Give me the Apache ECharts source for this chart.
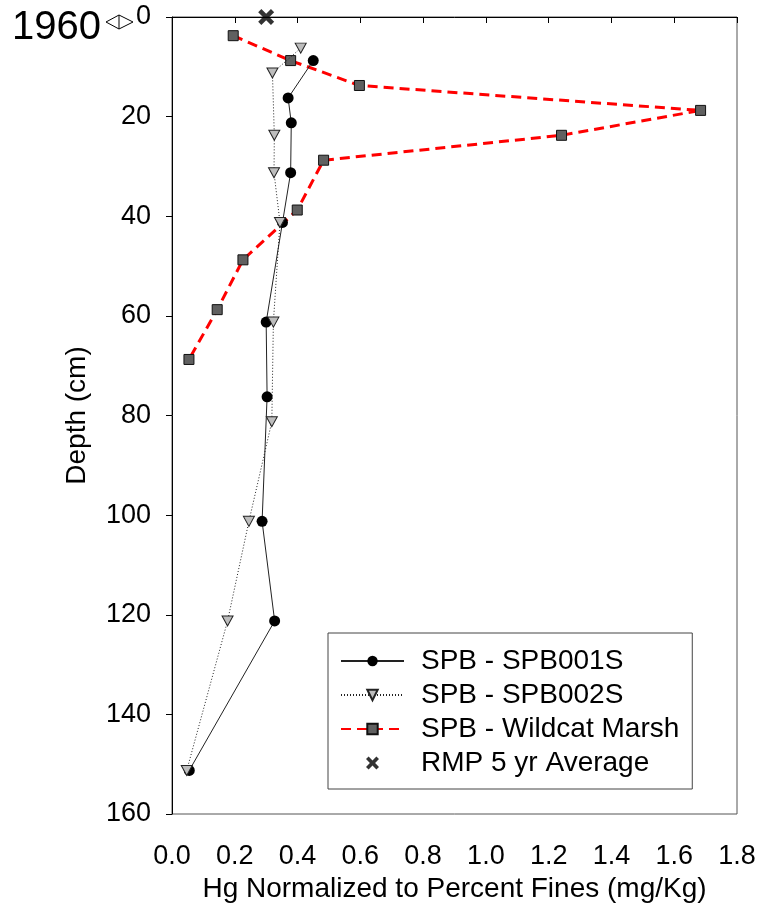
<!DOCTYPE html>
<html>
<head>
<meta charset="utf-8">
<script src="https://cdn.jsdelivr.net/npm/echarts@6/dist/echarts.min.js"></script>
<style>
html,body{margin:0;padding:0;background:#fff;}
#chart{width:760px;height:915px;}
</style>
</head>
<body>
<div id="chart"></div>
<script>
const seriesNames = ['SPB - SPB001S', 'SPB - SPB002S', 'SPB - Wildcat Marsh', 'RMP 5 yr Average'];
const depth001 = [8.75, 16.25, 21.25, 31.25, 41.25, 61.25, 76.25, 101.25, 121.25, 151.25];
const hg001 = [0.45, 0.37, 0.38, 0.378, 0.352, 0.30, 0.303, 0.287, 0.327, 0.055];
const depth002 = [6.25, 11.25, 23.75, 31.25, 41.25, 61.25, 81.25, 101.25, 121.25, 151.25];
const hg002 = [0.41, 0.32, 0.326, 0.325, 0.344, 0.323, 0.318, 0.245, 0.177, 0.047];
const depthWildcat = [3.75, 8.75, 13.75, 18.75, 23.75, 28.75, 38.75, 48.75, 58.75, 68.75];
const hgWildcat = [0.195, 0.378, 0.597, 1.684, 1.241, 0.483, 0.399, 0.226, 0.144, 0.054];
const depthRmp = [0];
const hgRmp = [0.30];
const xTicks = [0.0, 0.2, 0.4, 0.6, 0.8, 1.0, 1.2, 1.4, 1.6, 1.8];
const yTicks = [0, 20, 40, 60, 80, 100, 120, 140, 160];
const titleText = '1960';

const pairs = (xs, ys) => xs.map((v, i) => [v, ys[i]]);
const FONT = '"Liberation Sans", Arial, sans-serif';
const xPath = 'path://M0,4 L4,0 L10,6 L16,0 L20,4 L14,10 L20,16 L16,20 L10,14 L4,20 L0,16 L6,10 Z';

const chart = echarts.init(document.getElementById('chart'), null, {renderer: 'canvas'});
chart.setOption({
  animation: false,
  backgroundColor: '#fff',
  textStyle: {fontFamily: FONT, color: '#000'},
  grid: {left: 172, right: 23, top: 17, bottom: 101, show: true, borderColor: '#555', borderWidth: 1, containLabel: false},
  xAxis: {
    type: 'value',
    min: xTicks[0], max: xTicks[xTicks.length - 1], interval: 0.2,
    name: 'Hg Normalized to Percent Fines (mg/Kg)',
    nameLocation: 'middle', nameGap: 60,
    nameTextStyle: {fontSize: 28, fontFamily: FONT, color: '#000'},
    axisLine: {show: true, lineStyle: {color: '#000', width: 1}},
    axisTick: {show: true, inside: false, length: 6, lineStyle: {color: '#000'}},
    axisLabel: {fontSize: 27, fontFamily: FONT, color: '#000', margin: 29, formatter: v => v.toFixed(1)},
    splitLine: {show: false}
  },
  yAxis: {
    type: 'value', inverse: true,
    min: yTicks[0], max: yTicks[yTicks.length - 1], interval: 20,
    name: 'Depth (cm)',
    nameLocation: 'middle', nameGap: 81, nameRotate: 90,
    nameTextStyle: {fontSize: 28, fontFamily: FONT, color: '#000'},
    axisLine: {show: true, lineStyle: {color: '#000', width: 1}},
    axisTick: {show: true, inside: false, length: 6, lineStyle: {color: '#000'}},
    axisLabel: {fontSize: 27, fontFamily: FONT, color: '#000', margin: 21},
    splitLine: {show: false}
  },
  legend: {
    orient: 'vertical',
    left: 328, top: 633,
    padding: [14, 13, 12, 12],
    itemWidth: 63, itemHeight: 13, itemGap: 6,
    borderColor: '#444', borderWidth: 1, backgroundColor: '#fff',
    textStyle: {fontSize: 28, fontFamily: FONT, color: '#000', lineHeight: 28, padding: [0, 0, 0, 12]},
    data: [seriesNames[0], seriesNames[1], seriesNames[2], {name: seriesNames[3], icon: xPath}]
  },
  series: [
    {
      name: seriesNames[0], type: 'line', data: pairs(hg001, depth001),
      symbol: 'circle', symbolSize: 11,
      lineStyle: {color: '#222', width: 1, type: 'solid'},
      itemStyle: {color: '#000', borderColor: '#000', borderWidth: 0},
      z: 3
    },
    {
      name: seriesNames[1], type: 'line', data: pairs(hg002, depth002),
      symbol: 'triangle', symbolRotate: 180, symbolSize: [11, 10],
      lineStyle: {color: '#222', width: 1, type: [1, 2]},
      itemStyle: {color: '#bdbdbd', borderColor: '#222', borderWidth: 1},
      z: 4
    },
    {
      name: seriesNames[2], type: 'line', data: pairs(hgWildcat, depthWildcat),
      symbol: 'rect', symbolSize: 10,
      lineStyle: {color: '#ff0000', width: 3, type: [10, 6]},
      itemStyle: {color: '#606060', borderColor: '#111', borderWidth: 1},
      z: 2
    },
    {
      name: seriesNames[3], type: 'scatter', data: pairs(hgRmp, depthRmp),
      symbol: xPath, symbolSize: 16, clip: false,
      itemStyle: {color: '#000'},
      z: 5
    }
  ],
  graphic: [
    {type: 'text', left: 12, top: 8, style: {text: titleText, font: '40px ' + FONT, fill: '#000'}},
    {type: 'polygon', shape: {points: [[106, 22], [119, 15], [133, 22], [119, 29]]}, style: {fill: '#fff', stroke: '#000', lineWidth: 1}},
    {type: 'line', shape: {x1: 119, y1: 15, x2: 119, y2: 29}, style: {stroke: '#000', lineWidth: 1}}
  ]
});
</script>
</body>
</html>
